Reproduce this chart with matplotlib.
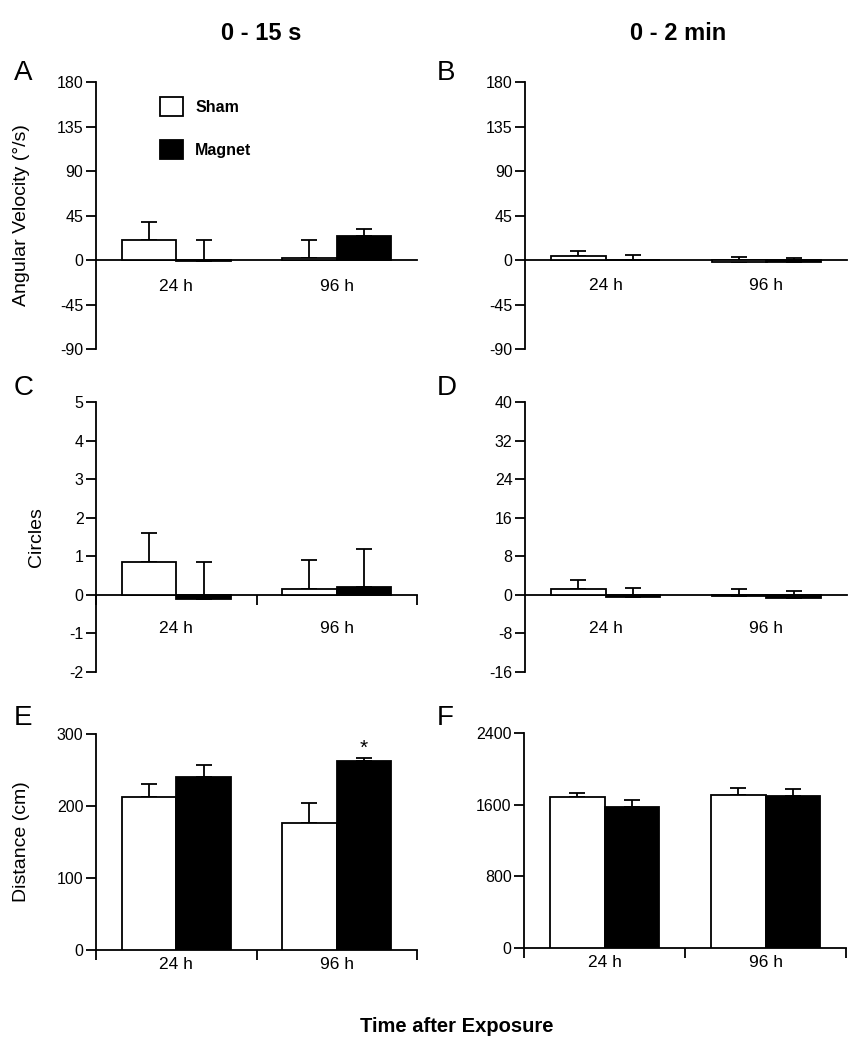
import matplotlib
matplotlib.use("Agg")
import matplotlib.pyplot as plt
from matplotlib.patches import Patch
import numpy as np

plt.rcParams['font.family'] = ['Liberation Sans', 'DejaVu Sans']

categories = ['24 h', '96 h']

# Panel A: angular velocity 0-15 s
sham_A = [20, 2]
sham_A_err = [18, 18]
magnet_A = [-1.5, 24]
magnet_A_err = [22, 7]

# Panel B: angular velocity 0-2 min
sham_B = [4, -2]
sham_B_err = [5, 5.3]
magnet_B = [-0.5, -2]
magnet_B_err = [5.8, 3.7]

# Panel C: circles 0-15 s
sham_C = [0.86, 0.15]
sham_C_err = [0.75, 0.75]
magnet_C = [-0.1, 0.2]
magnet_C_err = [0.96, 1.0]

# Panel D: circles 0-2 min
sham_D = [1.2, -0.3]
sham_D_err = [1.9, 1.5]
magnet_D = [-0.4, -0.7]
magnet_D_err = [1.9, 1.5]

# Panel E: distance 0-15 s
sham_E = [212, 177]
sham_E_err = [18, 27]
magnet_E = [240, 263]
magnet_E_err = [17, 4]

# Panel F: distance 0-2 min
sham_F = [1689, 1712]
sham_F_err = [41, 78]
magnet_F = [1574, 1693]
magnet_F_err = [78, 78]

yticks_A = [-90, -45, 0, 45, 90, 135, 180]
yticks_C = [-2, -1, 0, 1, 2, 3, 4, 5]
yticks_D = [-16, -8, 0, 8, 16, 24, 32, 40]
yticks_E = [0, 100, 200, 300]
yticks_F = [0, 800, 1600, 2400]

W, H = 864, 1050
fig = plt.figure(figsize=(W / 100, H / 100), dpi=100)


def axes_px(left, right, top, bottom):
    return fig.add_axes([left / W, 1 - bottom / H, (right - left) / W, (bottom - top) / H])


LW = 1.3
BW = 0.34


def draw(ax, sham, sham_err, mag, mag_err, yticks, xtick_marks, pad):
    x = np.array([0.5, 1.5])
    ax.bar(x - BW / 2, sham, BW, color='white', edgecolor='black', linewidth=LW, zorder=3)
    ax.bar(x + BW / 2, mag, BW, color='black', edgecolor='black', linewidth=LW, zorder=3)
    ax.errorbar(x - BW / 2, sham, yerr=[np.zeros(2), sham_err], fmt='none', ecolor='black',
                elinewidth=LW, capsize=6, capthick=LW, zorder=2)
    ax.errorbar(x + BW / 2, mag, yerr=[np.zeros(2), mag_err], fmt='none', ecolor='black',
                elinewidth=LW, capsize=6, capthick=LW, zorder=2)
    ax.set_xlim(0, 2)
    ax.set_ylim(yticks[0], yticks[-1])
    ax.set_yticks(yticks)
    ax.set_yticklabels([str(t) for t in yticks])
    ax.spines['top'].set_visible(False)
    ax.spines['right'].set_visible(False)
    ax.spines['bottom'].set_position(('data', 0))
    ax.spines['left'].set_linewidth(LW)
    ax.spines['bottom'].set_linewidth(LW)
    ax.set_xticks(x)
    ax.set_xticklabels(categories)
    ax.tick_params(axis='x', which='major', length=0, pad=pad, labelsize=12.5)
    if xtick_marks:
        ax.set_xticks([0, 1, 2], minor=True)
        ax.tick_params(axis='x', which='minor', length=7, width=LW, direction='out')
    ax.tick_params(axis='y', length=7, width=LW, labelsize=11.5, pad=2)
    ax.set_facecolor('none')


axA = axes_px(96, 417, 82, 349)
draw(axA, sham_A, sham_A_err, magnet_A, magnet_A_err, yticks_A, False, 14)
axA.set_ylabel('Angular Velocity (°/s)', fontsize=14)
axA.yaxis.set_label_coords(-0.205, 0.5)
axA.legend(handles=[Patch(facecolor='white', edgecolor='black', linewidth=LW),
                    Patch(facecolor='black', edgecolor='black', linewidth=LW)],
           labels=['Sham', 'Magnet'], loc='upper left', bbox_to_anchor=(0.2, 0.944),
           frameon=False, borderaxespad=0, borderpad=0, handlelength=1.45, handleheight=1.45,
           labelspacing=1.5, handletextpad=0.75, prop={'weight': 'bold', 'size': 11.5})

axB = axes_px(525, 847, 82, 349)
draw(axB, sham_B, sham_B_err, magnet_B, magnet_B_err, yticks_A, False, 13)

axC = axes_px(96, 417, 402, 672)
draw(axC, sham_C, sham_C_err, magnet_C, magnet_C_err, yticks_C, True, 19)
axC.set_ylabel('Circles', fontsize=14)
axC.yaxis.set_label_coords(-0.16, 0.5)

axD = axes_px(525, 847, 402, 672)
draw(axD, sham_D, sham_D_err, magnet_D, magnet_D_err, yticks_D, False, 19)

axE = axes_px(96, 417, 734, 950)
draw(axE, sham_E, sham_E_err, magnet_E, magnet_E_err, yticks_E, True, 5)
axE.set_ylabel('Distance (cm)', fontsize=14)
axE.yaxis.set_label_coords(-0.205, 0.5)
axE.text(1.5 + BW / 2, 280, '*', ha='center', va='center', fontsize=15)

axF = axes_px(524, 846, 733, 948)
draw(axF, sham_F, sham_F_err, magnet_F, magnet_F_err, yticks_F, True, 5)

# panel letters
for letter, px, py in [('A', 14, 80), ('B', 437, 80), ('C', 14, 395),
                       ('D', 437, 395), ('E', 14, 725), ('F', 437, 725)]:
    fig.text(px / W, 1 - py / H, letter, fontsize=20, ha='left', va='baseline')

fig.text(261 / W, 1 - 34 / H, '0 - 15 s', fontsize=17, fontweight='bold', ha='center', va='center')
fig.text(678 / W, 1 - 34 / H, '0 - 2 min', fontsize=17, fontweight='bold', ha='center', va='center')
fig.text(457 / W, 1 - 1027 / H, 'Time after Exposure', fontsize=14.5, fontweight='bold',
         ha='center', va='center')

fig.savefig('out.png', dpi=100)
